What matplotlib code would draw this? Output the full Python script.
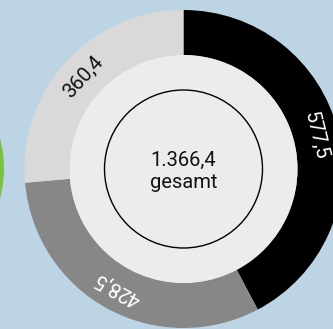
import numpy as np
import matplotlib
matplotlib.use("Agg")
import matplotlib.pyplot as plt
from matplotlib.patches import Circle

# Anteile (Mio.) im Uhrzeigersinn ab 12 Uhr
labels = ["577,5", "428,5", "360,4"]
values = [577.5, 428.5, 360.4]
total_label = "1.366,4"
total_caption = "gesamt"

BG = "#bcd4e4"
SEG_COLORS = ["#000000", "#878787", "#d9d9d9"]
LABEL_COLORS = ["#ffffff", "#ffffff", "#111111"]
INNER = "#ececec"
GREEN = "#7cc242"

W, H = 333, 329
cx, cy = 183.5, H - 169
r_out, r_in, r_ring = 159, 114, 79

plt.rcParams["font.family"] = ["Roboto", "DejaVu Sans"]

fig = plt.figure(figsize=(W / 100, H / 100), dpi=100)
fig.patch.set_facecolor(BG)
ax = fig.add_axes([0, 0, 1, 1])
ax.set_facecolor(BG)

# Rand des Nachbardiagramms links
ax.add_patch(Circle((-112, H - 168.5), 116, facecolor=GREEN, edgecolor="none"))

ax.pie(
    values,
    colors=SEG_COLORS,
    startangle=90,
    counterclock=False,
    radius=r_out,
    center=(cx, cy),
    wedgeprops=dict(width=r_out - r_in, linewidth=0),
    frame=True,
)
ax.set_xlim(0, W)
ax.set_ylim(0, H)
ax.set_aspect("equal")
ax.axis("off")

ax.add_patch(Circle((cx, cy), r_in, facecolor=INNER, edgecolor="none", zorder=3))
ax.add_patch(Circle((cx, cy), r_ring, facecolor="none", edgecolor="#000000",
                    linewidth=1.0, zorder=4))

# Beschriftungen tangential in der Ringmitte
r_lab = (r_out + r_in) / 2
cum = np.cumsum([0] + values)
tot = sum(values)
for i, (lab, v) in enumerate(zip(labels, values)):
    mid = (cum[i] + v / 2) / tot * 360  # Grad im Uhrzeigersinn ab oben
    phi = np.deg2rad(90 - mid)
    x = cx + r_lab * np.cos(phi)
    y = cy + r_lab * np.sin(phi)
    ax.text(x, y, lab, rotation=-mid, rotation_mode="anchor",
            ha="center", va="center", fontsize=14.5,
            color=LABEL_COLORS[i], zorder=5)

ax.text(cx, cy + 9, total_label, ha="center", va="center",
        fontsize=14.5, color="#111111", zorder=5)
ax.text(cx, cy - 14, total_caption, ha="center", va="center",
        fontsize=14.5, color="#111111", zorder=5)

fig.savefig("out.png", dpi=100, facecolor=BG)
